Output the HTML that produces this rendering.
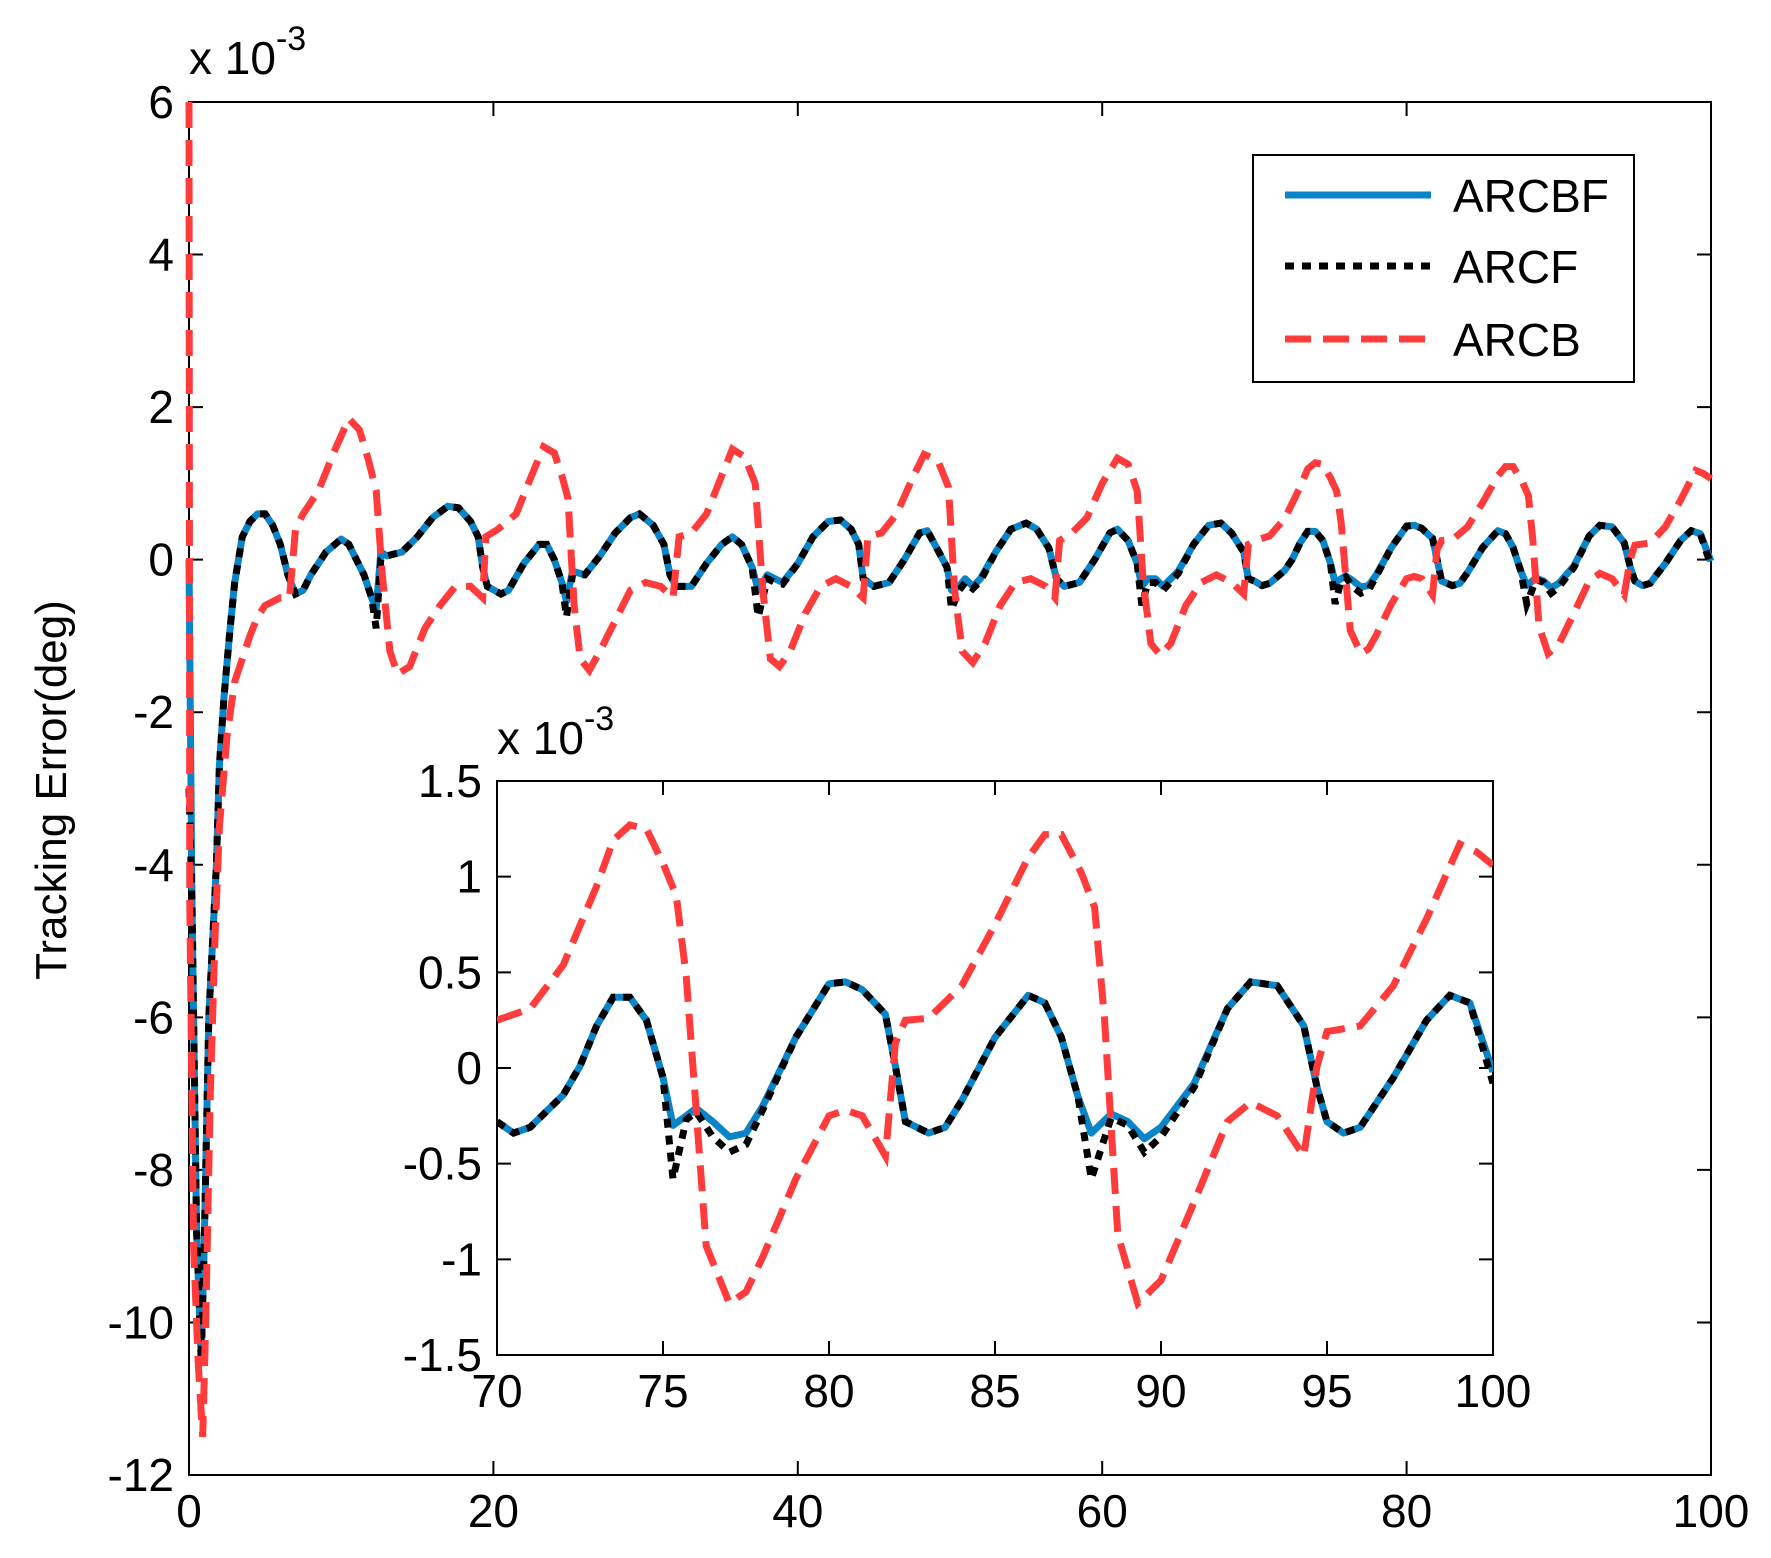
<!DOCTYPE html>
<html><head><meta charset="utf-8"><style>
html,body{margin:0;padding:0;background:#fff;}
svg{display:block;font-family:"Liberation Sans",Arial,sans-serif;}
</style></head><body>
<svg id="chart" width="1771" height="1558" viewBox="0 0 1771 1558" xmlns="http://www.w3.org/2000/svg">
<rect width="1771" height="1558" fill="#fff"/>
<g id="main"></g>
<g id="inset"></g>
<g id="legend"></g>
</svg>
<script>
// ---- main plot data (time s, error x1e-3 deg) ----
const tBF = [0,0.2,0.5,0.8,1.0,1.3,1.8,2.0,2.3,2.7,3.0,3.5,4,4.5,5,5.5,6,6.5,7,7.5,8,9,10,10.5,11,11.5,12,12.3,12.6,13,14,15,16,17,17.7,18.5,19,19.3,19.6,20.5,21,22,23,23.5,24,24.5,24.8,25.2,26,27,28,29,29.6,30.5,31.2,31.6,32,33,34,35,35.7,36.3,37,37.4,38,38.5,39,40,41,42,42.8,43.5,44,44.3,45,46,47,48,48.5,49,49.8,50.1,50.6,51,51.5,52,53,54,55,55.7,56.5,57,57.5,58.5,59.5,60.5,61,61.7,62.3,62.6,63,63.5,64,65,66,67,67.8,68.5,69.3,69.6,70,70.5,71,72,72.5,73,73.5,74,74.5,75,75.3,75.7,76,76.5,77,77.5,78,79,80,80.5,81,81.7,82,82.3,83,83.5,84,85,86,86.5,87,87.5,87.9,88.5,89,89.5,90,91,92,92.7,93.5,94.3,94.7,95,95.5,96,97,98,98.7,99.3,100];
const vBF = [0,-4.5,-8.8,-10.5,-9,-6,-4,-2.7,-1.8,-0.9,-0.3,0.3,0.5,0.6,0.6,0.45,0.2,-0.2,-0.45,-0.4,-0.2,0.1,0.27,0.2,0,-0.2,-0.5,-0.65,0.1,0.05,0.1,0.3,0.55,0.7,0.68,0.5,0.3,-0.1,-0.35,-0.45,-0.4,-0.05,0.2,0.2,0,-0.3,-0.55,-0.15,-0.2,0.05,0.35,0.55,0.6,0.45,0.2,-0.2,-0.35,-0.35,-0.05,0.2,0.3,0.2,-0.1,-0.4,-0.2,-0.25,-0.3,-0.05,0.3,0.5,0.52,0.4,0.2,-0.25,-0.35,-0.3,0,0.35,0.38,0.2,-0.1,-0.4,-0.35,-0.25,-0.35,-0.25,0.1,0.4,0.48,0.4,0.15,-0.25,-0.35,-0.3,0,0.35,0.4,0.25,-0.05,-0.35,-0.25,-0.25,-0.35,-0.15,0.2,0.45,0.48,0.35,0.1,-0.25,-0.28,-0.34,-0.31,-0.14,0.01,0.22,0.37,0.37,0.25,-0.05,-0.3,-0.25,-0.21,-0.28,-0.36,-0.34,-0.2,0.16,0.44,0.45,0.41,0.28,0.01,-0.28,-0.34,-0.31,-0.17,0.16,0.38,0.34,0.16,-0.15,-0.34,-0.24,-0.28,-0.37,-0.31,-0.08,0.31,0.45,0.43,0.22,-0.1,-0.28,-0.34,-0.31,-0.05,0.25,0.38,0.34,-0.02];
const vF  = [-3,-4.5,-8.8,-10.5,-9,-6,-4,-2.7,-1.8,-0.9,-0.3,0.3,0.5,0.6,0.6,0.45,0.2,-0.2,-0.45,-0.4,-0.2,0.1,0.27,0.2,0,-0.2,-0.5,-0.9,0.0,0.05,0.1,0.3,0.55,0.7,0.68,0.5,0.3,-0.1,-0.35,-0.45,-0.4,-0.05,0.2,0.2,0,-0.3,-0.75,-0.2,-0.2,0.05,0.35,0.55,0.6,0.45,0.2,-0.2,-0.35,-0.35,-0.05,0.2,0.3,0.2,-0.1,-0.75,-0.25,-0.3,-0.32,-0.05,0.3,0.5,0.52,0.4,0.2,-0.25,-0.35,-0.3,0,0.35,0.38,0.2,-0.1,-0.65,-0.4,-0.3,-0.38,-0.28,0.1,0.4,0.48,0.4,0.15,-0.25,-0.35,-0.3,0,0.35,0.4,0.25,-0.05,-0.6,-0.3,-0.3,-0.4,-0.18,0.2,0.45,0.48,0.35,0.1,-0.25,-0.28,-0.34,-0.31,-0.14,0.01,0.22,0.37,0.37,0.25,-0.05,-0.58,-0.27,-0.23,-0.36,-0.44,-0.4,-0.22,0.16,0.44,0.45,0.41,0.28,0.01,-0.28,-0.34,-0.31,-0.17,0.16,0.38,0.34,0.16,-0.15,-0.58,-0.26,-0.3,-0.44,-0.36,-0.1,0.31,0.45,0.43,0.22,-0.1,-0.28,-0.34,-0.31,-0.05,0.25,0.38,0.34,-0.08];
const tB = [0,0.05,0.3,0.6,0.9,1.1,1.4,1.7,2,2.5,3,3.5,4,4.5,5,6,6.6,7,7.5,8.5,9.5,10.5,11.2,11.8,12.3,12.7,13.2,13.7,14.5,15.5,16.5,17.5,18.5,19.3,19.5,20.3,21.5,22.5,23.3,24,24.5,24.9,25.3,25.7,26.3,27,28,29,30,31,31.8,32.2,33,34,35,35.7,36.5,37.2,37.7,38.2,38.8,39.5,40.5,41.5,42.5,43.5,44.3,44.6,45.5,46.5,47.5,48.3,49.2,49.9,50.3,50.8,51.5,52.3,53.3,54.3,55.3,56.3,56.9,57.2,58,59,60,61,61.7,62.3,62.7,63.2,63.8,64.5,65.5,66.5,67.5,68.5,69.3,69.6,70,71,72,73,73.5,74,74.5,75,75.4,75.7,76,76.3,77,77.5,78,79,80,80.5,81,81.7,82,82.3,83,84,85,86,86.5,87,87.6,88,88.3,88.7,89.3,90,91,92,92.7,93.5,94.3,94.7,95,96,97,98,99,99.5,100];
const vB = [6,-4.5,-9,-10.5,-11.5,-10,-7,-5,-3.5,-2.3,-1.6,-1.3,-1.0,-0.75,-0.6,-0.5,-0.5,0.4,0.6,0.9,1.4,1.85,1.7,1.3,0.9,-0.2,-1.2,-1.5,-1.4,-0.9,-0.6,-0.35,-0.35,-0.5,0.3,0.4,0.6,1.1,1.48,1.4,1.1,0.8,-0.6,-1.3,-1.45,-1.2,-0.8,-0.4,-0.3,-0.35,-0.5,0.3,0.35,0.6,1.1,1.45,1.35,1.0,-0.4,-1.3,-1.4,-1.2,-0.7,-0.35,-0.25,-0.35,-0.5,0.3,0.35,0.6,1.05,1.38,1.3,0.95,-0.4,-1.2,-1.35,-1.1,-0.6,-0.3,-0.25,-0.35,-0.5,0.25,0.35,0.55,1.0,1.33,1.25,0.9,-0.3,-1.1,-1.25,-1.1,-0.6,-0.3,-0.2,-0.3,-0.45,0.2,0.25,0.31,0.54,0.95,1.19,1.27,1.25,1.07,0.9,0.48,-0.22,-0.93,-1.23,-1.17,-0.99,-0.58,-0.25,-0.22,-0.25,-0.46,0.13,0.25,0.26,0.43,0.75,1.1,1.22,1.22,1.02,0.84,0.25,-0.87,-1.23,-1.11,-0.7,-0.28,-0.18,-0.25,-0.46,0.01,0.19,0.22,0.43,0.78,1.17,1.13,1.06];
const mainXTicks = [0,20,40,60,80,100];
const mainYTicks = [6,4,2,0,-2,-4,-6,-8,-10,-12];
const insetXTicks = [70,75,80,85,90,95,100];
const insetYTicks = [1.5,1,0.5,0,-0.5,-1,-1.5];
const insetYLabels = ["1.5","1","0.5","0","-0.5","-1","-1.5"];

const NS="http://www.w3.org/2000/svg";
function mk(parent,tag,attrs,text){const e=document.createElementNS(NS,tag);for(const k in attrs)e.setAttribute(k,attrs[k]);if(text!==undefined)e.textContent=text;parent.appendChild(e);return e;}

// main axes
const M={x0:189,x1:1711,y0:102,y1:1475,tmin:0,tmax:100,vmin:-12,vmax:6};
const mx=t=>M.x0+(t-M.tmin)/(M.tmax-M.tmin)*(M.x1-M.x0);
const my=v=>M.y0+(M.vmax-v)/(M.vmax-M.vmin)*(M.y1-M.y0);
// inset axes
const I={x0:497,x1:1493,y0:781,y1:1355,tmin:70,tmax:100,vmin:-1.5,vmax:1.5};
const ix=t=>I.x0+(t-I.tmin)/(I.tmax-I.tmin)*(I.x1-I.x0);
const iy=v=>I.y0+(I.vmax-v)/(I.vmax-I.vmin)*(I.y1-I.y0);

function pathD(ts,vs,fx,fy,clipMin,clipMax){let d="";let first=true;for(let i=0;i<ts.length;i++){if(ts[i]<clipMin||ts[i]>clipMax)continue;d+=(first?"M":"L")+fx(ts[i]).toFixed(1)+","+fy(vs[i]).toFixed(1);first=false;}return d;}

function drawAxes(g,A,fx,fy,xt,yt,ylab,fs,name){
  for(let i=0;i<xt.length;i++){const x=fx(xt[i]);
    const tk=mk(g,"path",{d:`M${x},${A.y1}V${A.y1-14}M${x},${A.y0}V${A.y0+14}`,stroke:"#000","stroke-width":2});
    
    
    const tl=mk(g,"text",{x:x,y:A.y1+52,"font-size":fs,"text-anchor":"middle"},String(xt[i]));
    
    
  }
  for(let i=0;i<yt.length;i++){const y=fy(yt[i]);
    const tk=mk(g,"path",{d:`M${A.x0},${y}H${A.x0+14}M${A.x1},${y}H${A.x1-14}`,stroke:"#000","stroke-width":2});
    
    
    const tl=mk(g,"text",{x:A.x0-15,y:y+16,"font-size":fs,"text-anchor":"end"},ylab[i]);
    
    
  }
}
function drawSeries(g,A,fx,fy,name){
  const s1=mk(g,"path",{d:pathD(tBF,vBF,fx,fy,A.tmin,A.tmax),fill:"none",stroke:"#0a84c8","stroke-width":7,"stroke-linejoin":"round"});
  
  
  const s2=mk(g,"path",{d:pathD(tBF,vF,fx,fy,A.tmin,A.tmax),fill:"none",stroke:"#000","stroke-width":7,"stroke-dasharray":"9,8"});
  
  
  const s3=mk(g,"path",{d:pathD(tB,vB,fx,fy,A.tmin,A.tmax),fill:"none",stroke:"#ff3b3b","stroke-width":7,"stroke-dasharray":"26,12"});
  
  
}

const gm=document.getElementById("main");
const mb=mk(gm,"rect",{x:M.x0,y:M.y0,width:M.x1-M.x0,height:M.y1-M.y0,fill:"#fff",stroke:"#000","stroke-width":2});


drawAxes(gm,M,mx,my,mainXTicks,mainYTicks,mainYTicks.map(String),46,'main');
drawSeries(gm,M,mx,my,'main');
const me=mk(gm,"text",{x:189,y:74,"font-size":46},"x 10");


mk(me,"tspan",{dy:-24,"font-size":34},"-3");
const yt=mk(gm,"text",{x:0,y:0,"font-size":44,"text-anchor":"middle",transform:"translate(66,790) rotate(-90)"},"Tracking Error(deg)");



const gi=document.getElementById("inset");
const ib=mk(gi,"rect",{x:I.x0,y:I.y0,width:I.x1-I.x0,height:I.y1-I.y0,fill:"#fff",stroke:"#000","stroke-width":2});


const cp=mk(gi,"clipPath",{id:"icp"});mk(cp,"rect",{x:I.x0,y:I.y0,width:I.x1-I.x0,height:I.y1-I.y0});
drawAxes(gi,I,ix,iy,insetXTicks,insetYTicks,insetYLabels,46,'inset');
const gis=mk(gi,"g",{"clip-path":"url(#icp)"});
drawSeries(gis,I,ix,iy,'inset');
const ie=mk(gi,"text",{x:497,y:754,"font-size":46},"x 10");


mk(ie,"tspan",{dy:-24,"font-size":34},"-3");

const gl=document.getElementById("legend");


mk(gl,"rect",{x:1253,y:155,width:381,height:227,fill:"#fff",stroke:"#000","stroke-width":2});
const leg=[["ARCBF","#0a84c8","none",195],["ARCF","#000","9,8",266],["ARCB","#ff3b3b","26,12",339]];
for(const L of leg){
  const ln=mk(gl,"line",{x1:1285,x2:1431,y1:L[3],y2:L[3],stroke:L[1],"stroke-width":7,"stroke-dasharray":L[2]});
  
  
  const tx=mk(gl,"text",{x:1453,y:L[3]+17,"font-size":46},L[0]);
  
  
}
</script>
</body></html>
